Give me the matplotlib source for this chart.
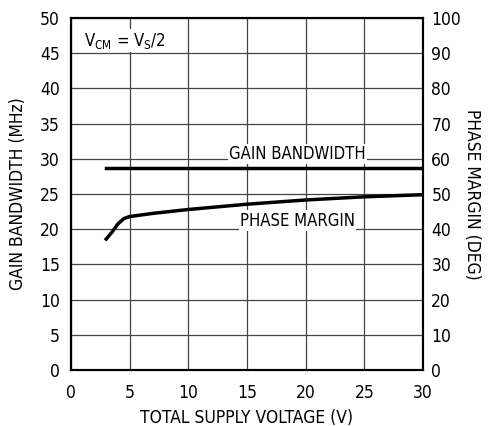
import matplotlib
matplotlib.use('Agg')
import matplotlib.pyplot as plt

plt.rcParams['font.family'] = ['DejaVu Sans']
plt.rcParams['font.stretch'] = 'condensed'
plt.rcParams['mathtext.default'] = 'regular'

# gain bandwidth (MHz, left axis)
gbw_v = [3, 30]
gbw = [28.7, 28.7]

# phase margin (deg, right axis)
pm_v = [3, 3.5, 4, 4.5, 5, 7, 10, 15, 20, 25, 30]
pm = [37.2, 39.2, 41.5, 43.0, 43.6, 44.5, 45.6, 47.1, 48.3, 49.2, 49.8]

fig = plt.figure(figsize=(4.93, 4.26), dpi=100)
ax = fig.add_axes([71/493, 56/426, 352/493, 352/426])
ax2 = ax.twinx()

ax.set_xlim(0, 30)
ax.set_ylim(0, 50)
ax2.set_ylim(0, 100)
ax.set_xticks(range(0, 31, 5))
ax.set_yticks(range(0, 51, 5))
ax2.set_yticks(range(0, 101, 10))
ax.grid(True, color='#444444', linewidth=0.9)
ax.tick_params(axis='x', length=0, labelsize=12.5, pad=10)
ax.tick_params(axis='y', length=0, labelsize=12.5, pad=8)
ax2.tick_params(length=0, labelsize=12.5, pad=6)
for a in (ax, ax2):
    for s in a.spines.values():
        s.set_linewidth(1.5)

ax.plot(gbw_v, gbw, color='black', linewidth=2.5, zorder=3)
ax2.plot(pm_v, pm, color='black', linewidth=2.5, zorder=3)

ax.text(19.3, 30.7, 'GAIN BANDWIDTH', fontsize=12, ha='center', va='center',
        bbox=dict(facecolor='white', edgecolor='none', pad=1), zorder=4)
ax.text(19.3, 21.2, 'PHASE MARGIN', fontsize=12, ha='center', va='center',
        bbox=dict(facecolor='white', edgecolor='none', pad=1), zorder=4)
ax.text(1.1, 46.8, '$V_{CM}$ = $V_S$/2', fontsize=12, ha='left', va='center',
        bbox=dict(facecolor='white', edgecolor='none', pad=1), zorder=4)

ax.set_xlabel('TOTAL SUPPLY VOLTAGE (V)', fontsize=12.5, labelpad=5)
ax.set_ylabel('GAIN BANDWIDTH (MHz)', fontsize=12.5, labelpad=9)
ax2.set_ylabel('PHASE MARGIN (DEG)', fontsize=12.5, rotation=270, labelpad=14)

fig.savefig('out.png', dpi=100)
